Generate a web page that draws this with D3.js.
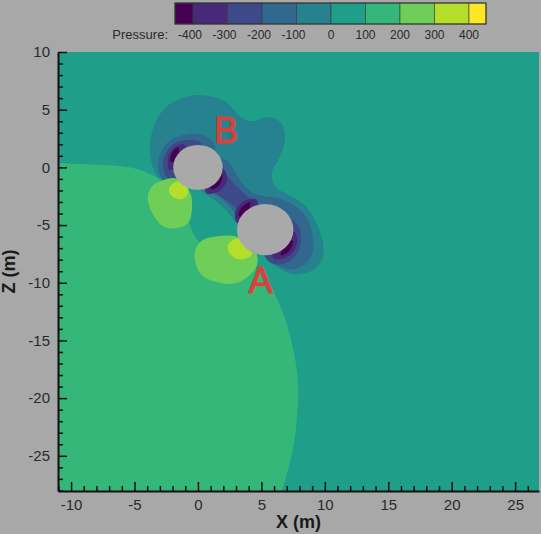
<!DOCTYPE html>
<html><head><meta charset="utf-8">
<script src="https://cdn.jsdelivr.net/npm/d3@7"></script>
<style>body{margin:0;background:#a8a8a8}svg{display:block}</style>
</head><body>
<svg id="c" width="541" height="534"></svg>
<script>
// ---------- data ----------
const levels = [-400,-300,-200,-100,0,100,200,300,400];
const legendLabels = ["-400","-300","-200","-100","0","100","200","300","400"];
const xTicks = [-10,-5,0,5,10,15,20,25];
const zTicks = [10,5,0,-5,-10,-15,-20,-25];
const xDomain = [-11.03, 26.88];
const zDomain = [-28.05, 10];
const backgroundPressure = 50;

// contour region outlines (x, z in m), each with the pressure band it belongs to
const greenArc = [[-11.03,0.35],[-8.51,0.25],[-6.15,0.1],[-4.57,-0.2],[-3.15,-0.95],[-1.42,-2.43],[-0.63,-5.03],[0,-6.33],[2.52,-8.06],[4.3,-8.6],[5.35,-9.6],[5.9,-10.66],[6.7,-12.6],[7.35,-15.0],[7.75,-17.2],[7.9,-19.3],[7.82,-21.5],[7.6,-23.7],[7.2,-25.8],[6.62,-28.08]];
const greenPressure = 150;

const negOuter = [[-2.05,-1.39],[-3.15,-0.78],[-3.70,0.61],[-3.75,2.34],[-3.35,3.90],[-2.60,5.15],[-1.42,5.95],[0,6.28],[1.34,6.07],[2.44,5.46],[3.31,4.42],[4.26,3.99],[5.28,4.33],[6.23,4.16],[6.78,3.38],[6.78,1.91],[6.30,0.61],[5.83,-0.43],[6.07,-1.65],[7.25,-2.43],[8.43,-3.29],[9.30,-4.77],[9.85,-6.50],[9.77,-8.06],[8.90,-9.01],[7.57,-9.27],[6.38,-8.75],[5.36,-7.80],[4.49,-6.33],[3.15,-5.03],[2.36,-3.90],[1.34,-2.86],[0.39,-2.17],[-0.63,-1.30]];
const neg150B = [[1.34,1.47],[1.10,2.34],[0.16,2.86],[-1.02,2.86],[-2.21,2.34],[-2.92,1.30],[-3.15,0],[-2.76,-1.13],[-2.05,-1.73],[-1.42,-1.13],[-1.02,0.61]];
const neg150GapA = [[2.29,0.61],[3.31,-1.13],[4.26,-2.17],[5.28,-2.51],[6.46,-2.69],[7.57,-3.29],[8.43,-4.16],[8.98,-5.63],[9.06,-7.19],[8.51,-8.32],[7.41,-8.84],[6.15,-8.41],[5.36,-7.71],[4.49,-5.89],[3.15,-4.59],[2.76,-3.73],[1.97,-2.86],[1.18,-1.73],[0.55,-0.43],[1.34,0.61]];
const neg250B = [[0.3,2.1],[-0.63,2.4],[-1.73,2.15],[-2.45,1.4],[-2.75,0.43],[-2.6,-0.55],[-2.1,-1.2],[-1.26,-0.69],[-0.63,1.04]];
const neg250Gap = [[1.42,-0.09],[2.2,-0.65],[2.9,-1.5],[3.7,-2.3],[4.6,-3.4],[3.9,-4.2],[3.1,-3.6],[2.3,-2.9],[1.4,-2.3],[0.63,-1.65]];
const neg250A = [[6.62,-4.07],[7.88,-5.03],[8.12,-6.33],[7.72,-7.63],[6.86,-8.32],[5.83,-8.32],[5.20,-7.45],[6.07,-5.89]];
const neg350B1 = [[-1.18,2.0],[-1.81,1.75],[-2.25,1.21],[-2.38,0.43],[-2.25,-0.2],[-1.42,0.17],[-0.79,1.47]];
const neg350B2 = [[1.97,-0.09],[2.29,-0.87],[2.05,-1.65],[1.42,-2.17],[0.71,-2.25],[0.55,-1.13],[1.34,-0.26]];
const neg350A1 = [[4.57,-2.77],[3.78,-2.86],[3.15,-3.38],[2.92,-4.07],[3.07,-4.77],[4.10,-4.59],[4.73,-3.73]];
const neg350A2 = [[7.64,-5.63],[7.80,-6.59],[7.41,-7.45],[6.70,-7.89],[5.99,-7.89],[5.83,-6.76],[6.86,-5.89]];
const neg450B1 = [[-1.58,1.75],[-2.08,1.21],[-2.15,0.52],[-1.58,0.61]];
const neg450B2 = [[1.89,-0.69],[1.73,-1.47],[1.10,-1.91],[0.95,-1.13]];
const neg450A1 = [[4.10,-3.03],[3.39,-3.55],[3.23,-4.25],[3.94,-3.90]];
const neg450A2 = [[7.49,-6.33],[7.25,-7.19],[6.54,-7.63],[6.78,-6.76]];
const pos250B = [[-3.15,-1.30],[-1.81,-0.95],[-0.63,-2.17],[-0.47,-3.55],[-0.79,-4.85],[-1.81,-5.29],[-2.84,-5.03],[-3.78,-3.55],[-3.94,-2.43],[-3.55,-1.56]];
const pos250A = [[0.32,-6.33],[1.58,-5.98],[2.92,-5.98],[3.70,-6.50],[4.57,-7.37],[4.65,-8.49],[3.94,-9.45],[2.92,-10.05],[1.58,-9.97],[0.32,-9.36],[-0.24,-8.06],[-0.16,-7.02]];
const pos350B = [[-2.05,-1.47],[-1.34,-1.21],[-0.79,-1.82],[-0.87,-2.43],[-1.42,-2.77],[-2.05,-2.51],[-2.29,-1.99]];
const pos350A = [[2.68,-6.33],[3.31,-6.15],[3.94,-6.85],[4.26,-7.54],[3.78,-7.89],[2.99,-7.89],[2.44,-7.37],[2.36,-6.76]];

const regions = [
  {p:-50, pts:negOuter},
  {p:-150, pts:neg150B},{p:-150, pts:neg150GapA},
  {p:-250, pts:neg250B},{p:-250, pts:neg250Gap},{p:-250, pts:neg250A},
  {p:-350, pts:neg350B1},{p:-350, pts:neg350B2},{p:-350, pts:neg350A1},{p:-350, pts:neg350A2},
  {p:-450, pts:neg450B1},{p:-450, pts:neg450B2},{p:-450, pts:neg450A1},{p:-450, pts:neg450A2},
  {p:250, pts:pos250B},{p:250, pts:pos250A},
  {p:350, pts:pos350B},{p:350, pts:pos350A}
];

const cylinders = [
  {name:"B", x:0.0, z:0.0, r:1.95, lx:2.21, lz:3.25},
  {name:"A", x:5.3, z:-5.4, r:2.22, lx:4.93, lz:-9.75}
];

// ---------- drawing ----------
const svg = d3.select("#c");
const L = 58, R = 539, T = 52, B = 491;
const x = d3.scaleLinear().domain(xDomain).range([L, R]);
const z = d3.scaleLinear().domain(zDomain).range([B, T]);
const palette = d3.quantize(d3.interpolateViridis, 10);
const color = d3.scaleThreshold().domain(levels).range(palette);

svg.append("rect").attr("width",541).attr("height",534).attr("fill","#a8a8a8");
svg.append("defs").append("clipPath").attr("id","pc")
  .append("rect").attr("x",L).attr("y",T).attr("width",R-L).attr("height",B-T);

const g = svg.append("g").attr("clip-path","url(#pc)");
g.append("rect").attr("x",L).attr("y",T).attr("width",R-L).attr("height",B-T)
  .attr("fill", color(backgroundPressure));

const openLine = d3.line().x(d=>x(d[0])).y(d=>z(d[1])).curve(d3.curveCatmullRom.alpha(0.5));
const closedLine = d3.line().x(d=>x(d[0])).y(d=>z(d[1])).curve(d3.curveCatmullRomClosed.alpha(0.5));

const last = greenArc[greenArc.length-1], first = greenArc[0];
const greenPath = openLine(greenArc) +
  `L${x(last[0])},${z(zDomain[0]-2)}L${x(xDomain[0]-2)},${z(zDomain[0]-2)}L${x(xDomain[0]-2)},${z(first[1])}Z`;
g.append("path").attr("d", greenPath).attr("fill", color(greenPressure));

g.selectAll("path.reg").data(regions).join("path").attr("class","reg")
  .attr("d", d=>closedLine(d.pts)).attr("fill", d=>color(d.p));

g.selectAll("ellipse").data(cylinders).join("ellipse")
  .attr("cx", d=>x(d.x)).attr("cy", d=>z(d.z))
  .attr("rx", d=>x(d.x+d.r)-x(d.x)).attr("ry", d=>z(d.z)-z(d.z+d.r))
  .attr("fill","#a9a9a9");

svg.selectAll("text.cyl").data(cylinders).join("text").attr("class","cyl")
  .attr("x", d=>x(d.lx)).attr("y", d=>z(d.lz)).attr("dy","0.36em")
  .attr("text-anchor","middle").attr("fill","#d5433c")
  .attr("stroke","#d5433c").attr("stroke-width",1.2)
  .style("font-family","'Liberation Sans', Arial, sans-serif").style("font-size","36px")
  .text(d=>d.name);

// axes
const font = "'Liberation Sans', Arial, sans-serif";
const fmt = d => String(d);
const xMinor = d3.range(-11, 27).filter(v=>v%5!==0 && v>=xDomain[0] && v<=xDomain[1]);
const zMinor = d3.range(-28, 11).filter(v=>v%5!==0 && v>=zDomain[0] && v<=zDomain[1]);

svg.append("g").attr("transform",`translate(0,${B})`)
  .call(d3.axisBottom(x).tickValues(xTicks).tickFormat(fmt).tickSizeInner(-9).tickSizeOuter(0).tickPadding(8));
svg.append("g").attr("transform",`translate(0,${B})`)
  .call(d3.axisBottom(x).tickValues(xMinor).tickSizeInner(-5).tickSizeOuter(0).tickFormat(""))
  .select(".domain").remove();
svg.append("g").attr("transform",`translate(${L},0)`)
  .call(d3.axisLeft(z).tickValues(zTicks).tickFormat(fmt).tickSizeInner(-9).tickSizeOuter(0).tickPadding(8));
svg.append("g").attr("transform",`translate(${L},0)`)
  .call(d3.axisLeft(z).tickValues(zMinor).tickSizeInner(-5).tickSizeOuter(0).tickFormat(""))
  .select(".domain").remove();

svg.selectAll(".domain").attr("stroke","#111").attr("stroke-width",2);
svg.selectAll(".tick line").attr("stroke","#111").attr("stroke-width",1.5);
svg.selectAll(".tick text").attr("fill","#2a2a2a").style("font-family",font).style("font-size","15px");

svg.append("text").attr("x",(L+R)/2).attr("y",528).attr("text-anchor","middle")
  .style("font-family",font).style("font-size","18px").style("font-weight","bold").attr("fill","#1a1a1a")
  .text("X (m)");
svg.append("text").attr("transform",`translate(15,${(T+B)/2}) rotate(-90)`).attr("text-anchor","middle")
  .style("font-family",font).style("font-size","18px").style("font-weight","bold").attr("fill","#1a1a1a")
  .text("Z (m)");

// legend
const lx = d3.scaleLinear().domain([levels[0], levels[levels.length-1]]).range([193,469]);
const edges = [175, ...levels.map(v=>lx(v)), 486];
const lg = svg.append("g");
lg.selectAll("rect").data(palette).join("rect")
  .attr("x",(d,i)=>edges[i]).attr("y",3).attr("width",(d,i)=>edges[i+1]-edges[i]).attr("height",21)
  .attr("fill",d=>d).attr("stroke","#3a3a3a").attr("stroke-width",0.6);
lg.append("rect").attr("x",175).attr("y",3).attr("width",311).attr("height",21)
  .attr("fill","none").attr("stroke","#333").attr("stroke-width",1);
lg.selectAll("text.lab").data(levels).join("text").attr("class","lab")
  .attr("x",(d,i)=>lx(d)-(d<0?3:0)).attr("y",39).attr("text-anchor","middle")
  .style("font-family",font).style("font-size","12px").attr("fill","#2a2a2a")
  .text((d,i)=>legendLabels[i]);
lg.append("text").attr("x",168).attr("y",39).attr("text-anchor","end")
  .style("font-family",font).style("font-size","13px").attr("fill","#2a2a2a").text("Pressure:");
</script>
</body></html>
